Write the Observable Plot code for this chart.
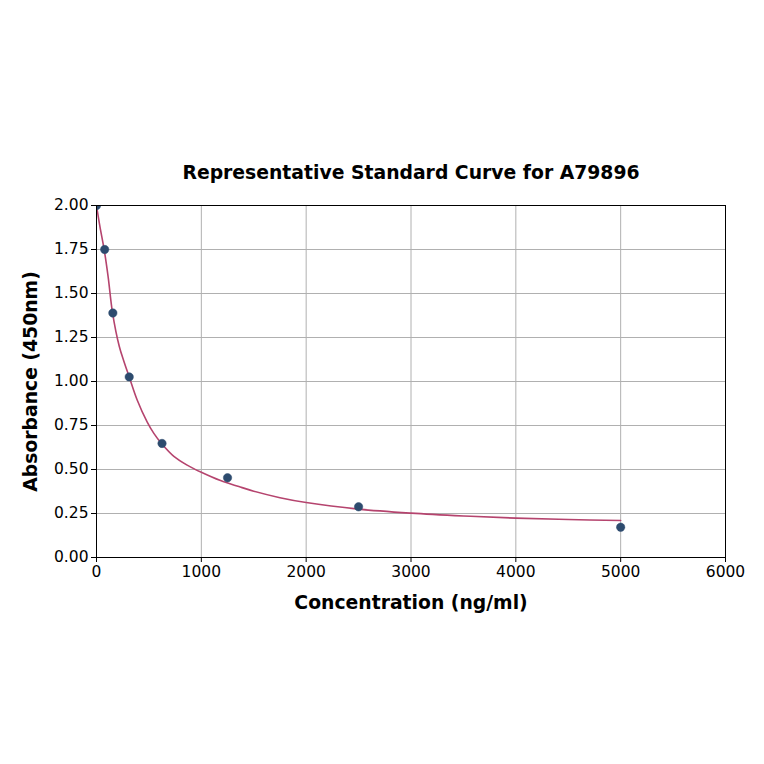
<!DOCTYPE html>
<html><head><meta charset="utf-8">
<script src="https://cdn.jsdelivr.net/npm/d3@7"></script>
<script src="https://cdn.jsdelivr.net/npm/@observablehq/plot@0.6"></script>
<style>
body{margin:0;background:#fff;}
svg{font-family:"DejaVu Sans",sans-serif;}
</style></head>
<body><div id="chart"></div>
<script>
const title = "Representative Standard Curve for A79896";
const xLabel = "Concentration (ng/ml)";
const yLabel = "Absorbance (450nm)";
// measured standards
const conc = [0, 78, 156, 312, 625, 1250, 2500, 5000];
const absorb = [2.0, 1.75, 1.389, 1.026, 0.648, 0.453, 0.288, 0.172];
// fitted curve
const curveX = [0, 32, 73, 111, 153, 217, 261, 312, 388, 484, 547, 620, 738, 865, 1000, 1183, 1358, 1500, 1750, 2000, 2500, 3000, 3500, 4000, 4500, 5000];
const curveY = [2.0, 1.883, 1.75, 1.595, 1.39, 1.20, 1.115, 1.026, 0.895, 0.769, 0.705, 0.648, 0.575, 0.525, 0.484, 0.437, 0.403, 0.377, 0.340, 0.3125, 0.275, 0.252, 0.236, 0.2235, 0.216, 0.21];
const xTicks = [0, 1000, 2000, 3000, 4000, 5000, 6000];
const yTicks = [0, 0.25, 0.5, 0.75, 1.0, 1.25, 1.5, 1.75, 2.0];

const pts = conc.map((c, i) => ({x: c, y: absorb[i]}));
const curve = curveX.map((c, i) => ({x: c, y: curveY[i]}));

const chart = Plot.plot({
  width: 764, height: 764,
  marginLeft: 96, marginRight: 39, marginTop: 205, marginBottom: 207,
  style: {fontSize: "15.5px", color: "#000", background: "#fff", fontFamily: "DejaVu Sans, sans-serif"},
  x: {domain: [0, 6000], label: null},
  y: {domain: [0, 2], label: null},
  marks: [
    Plot.gridX(xTicks, {stroke: "#b0b0b0", strokeOpacity: 1, strokeWidth: 1}),
    Plot.gridY(yTicks, {stroke: "#b0b0b0", strokeOpacity: 1, strokeWidth: 1}),
    Plot.line(curve, {x: "x", y: "y", curve: "catmull-rom", stroke: "#b5446e", strokeWidth: 1.6, clip: true}),
    Plot.dot(pts, {x: "x", y: "y", r: 4.2, fill: "#2d4b6e", stroke: "#2d4b6e", strokeWidth: 0.5, clip: true}),
    Plot.frame({stroke: "#000", strokeWidth: 1}),
    Plot.axisX({ticks: xTicks, tickSize: 5, tickPadding: 3, tickFormat: d => String(d), fontSize: 15.5, label: null}),
    Plot.axisY({ticks: yTicks, tickSize: 5, tickPadding: 3, tickFormat: d3.format(".2f"), fontSize: 15.5, label: null}),
    Plot.text([title], {frameAnchor: "top", dy: -40, fontSize: 18.8, fontWeight: "bold", fill: "#000"}),
    Plot.text([xLabel], {frameAnchor: "bottom", dy: 51, fontSize: 18.8, fontWeight: "bold", fill: "#000"}),
    Plot.text([yLabel], {frameAnchor: "left", dx: -66, rotate: -90, textAnchor: "middle", fontSize: 18.8, fontWeight: "bold", fill: "#000"})
  ]
});
document.getElementById("chart").appendChild(chart);
</script></body></html>
